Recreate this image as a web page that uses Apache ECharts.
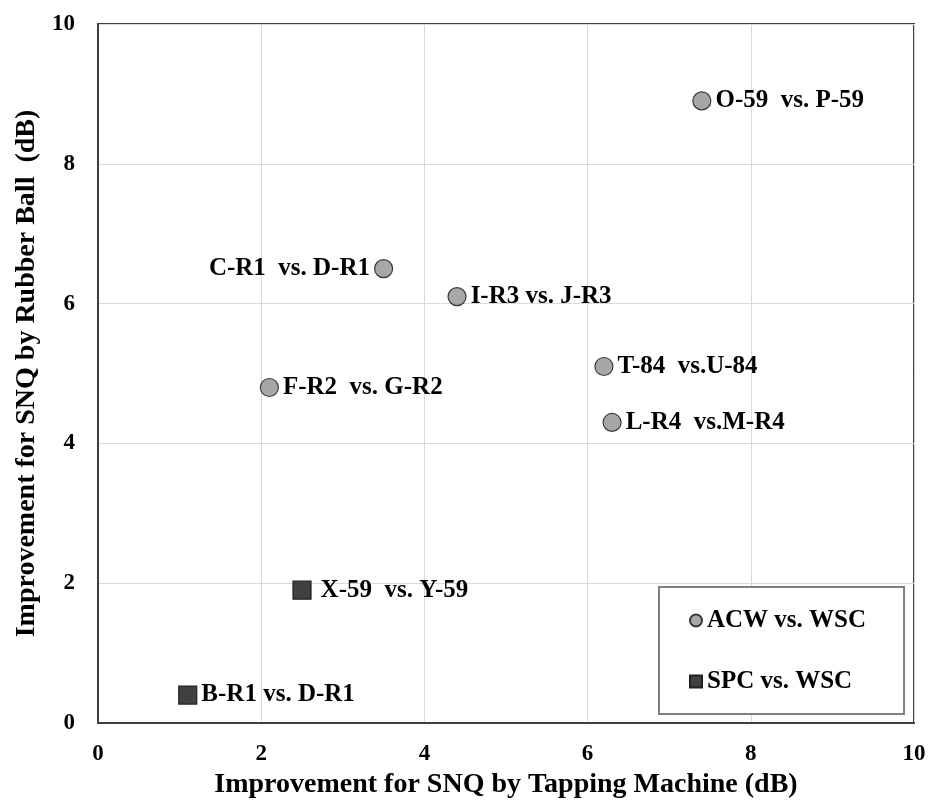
<!DOCTYPE html>
<html><head><meta charset="utf-8">
<script src="https://cdn.jsdelivr.net/npm/echarts@6/dist/echarts.min.js"></script>
<style>html,body{margin:0;padding:0;background:#fff}#c{width:932px;height:807px}</style>
</head><body><div id="c"></div>
<script>
const acwNames = ["O-59  vs. P-59", "C-R1  vs. D-R1", "I-R3 vs. J-R3", "F-R2  vs. G-R2", "T-84  vs.U-84", "L-R4  vs.M-R4"];
const acwX = [7.4, 3.5, 4.4, 2.1, 6.2, 6.3];
const acwY = [8.9, 6.5, 6.1, 4.8, 5.1, 4.3];
const spcNames = ["X-59  vs. Y-59", "B-R1 vs. D-R1"];
const spcX = [2.5, 1.1];
const spcY = [1.9, 0.4];
const leftLabeled = ["C-R1  vs. D-R1"];
const wideGap = ["X-59  vs. Y-59"];

const font = "'Liberation Serif', 'Times New Roman', serif";
const chart = echarts.init(document.getElementById('c'));
const mk = (names, xs, ys) => names.map((n, i) => ({
  name: n, value: [xs[i], ys[i]],
  label: { position: leftLabeled.includes(n) ? 'left' : 'right', distance: wideGap.includes(n) ? 9 : 4 }
}));
const lbl = { show: true, formatter: '{b}', fontFamily: font, fontWeight: 'bold', fontSize: 25, color: '#000' };
chart.setOption({
  animation: false,
  backgroundColor: '#fff',
  grid: { left: 98, right: 18, top: 24, bottom: 84, show: true, borderColor: '#404040', borderWidth: 2 },
  xAxis: {
    type: 'value', min: 0, max: 10, interval: 2,
    name: 'Improvement for SNQ by Tapping Machine (dB)',
    nameLocation: 'middle', nameGap: 44,
    nameTextStyle: { fontFamily: font, fontWeight: 'bold', fontSize: 28, color: '#000' },
    axisLine: { show: true, lineStyle: { color: '#404040', width: 2 } },
    axisTick: { show: false },
    axisLabel: { fontFamily: font, fontWeight: 'bold', fontSize: 23, color: '#000', margin: 20 },
    splitLine: { show: true, lineStyle: { color: '#d9d9d9', width: 1 } }
  },
  yAxis: {
    type: 'value', min: 0, max: 10, interval: 2,
    name: 'Improvement for SNQ by Rubber Ball  (dB)',
    nameLocation: 'middle', nameGap: 56,
    nameTextStyle: { fontFamily: font, fontWeight: 'bold', fontSize: 28, color: '#000' },
    axisLine: { show: true, lineStyle: { color: '#404040', width: 2 } },
    axisTick: { show: false },
    axisLabel: { fontFamily: font, fontWeight: 'bold', fontSize: 23, color: '#000', margin: 23 },
    splitLine: { show: true, lineStyle: { color: '#d9d9d9', width: 1 } }
  },
  legend: {
    orient: 'vertical', left: 659, top: 587,
    padding: [21, 38, 20, 30], itemGap: 36, itemWidth: 12, itemHeight: 12,
    borderColor: '#808080', borderWidth: 2, backgroundColor: '#fff',
    textStyle: { fontFamily: font, fontWeight: 'bold', fontSize: 25, color: '#000' },
    data: [
      { name: 'ACW vs. WSC', icon: 'circle' },
      { name: 'SPC vs. WSC', icon: 'rect' }
    ]
  },
  series: [
    {
      name: 'ACW vs. WSC', type: 'scatter', symbol: 'circle', symbolSize: 18,
      itemStyle: { color: '#a9a6a6', borderColor: '#3a3a3a', borderWidth: 1.2, opacity: 1 },
      label: lbl,
      data: mk(acwNames, acwX, acwY)
    },
    {
      name: 'SPC vs. WSC', type: 'scatter', symbol: 'rect', symbolSize: 18,
      itemStyle: { color: '#404040', borderColor: '#222', borderWidth: 1.2, opacity: 1 },
      label: lbl,
      data: mk(spcNames, spcX, spcY)
    }
  ]
});
</script></body></html>
